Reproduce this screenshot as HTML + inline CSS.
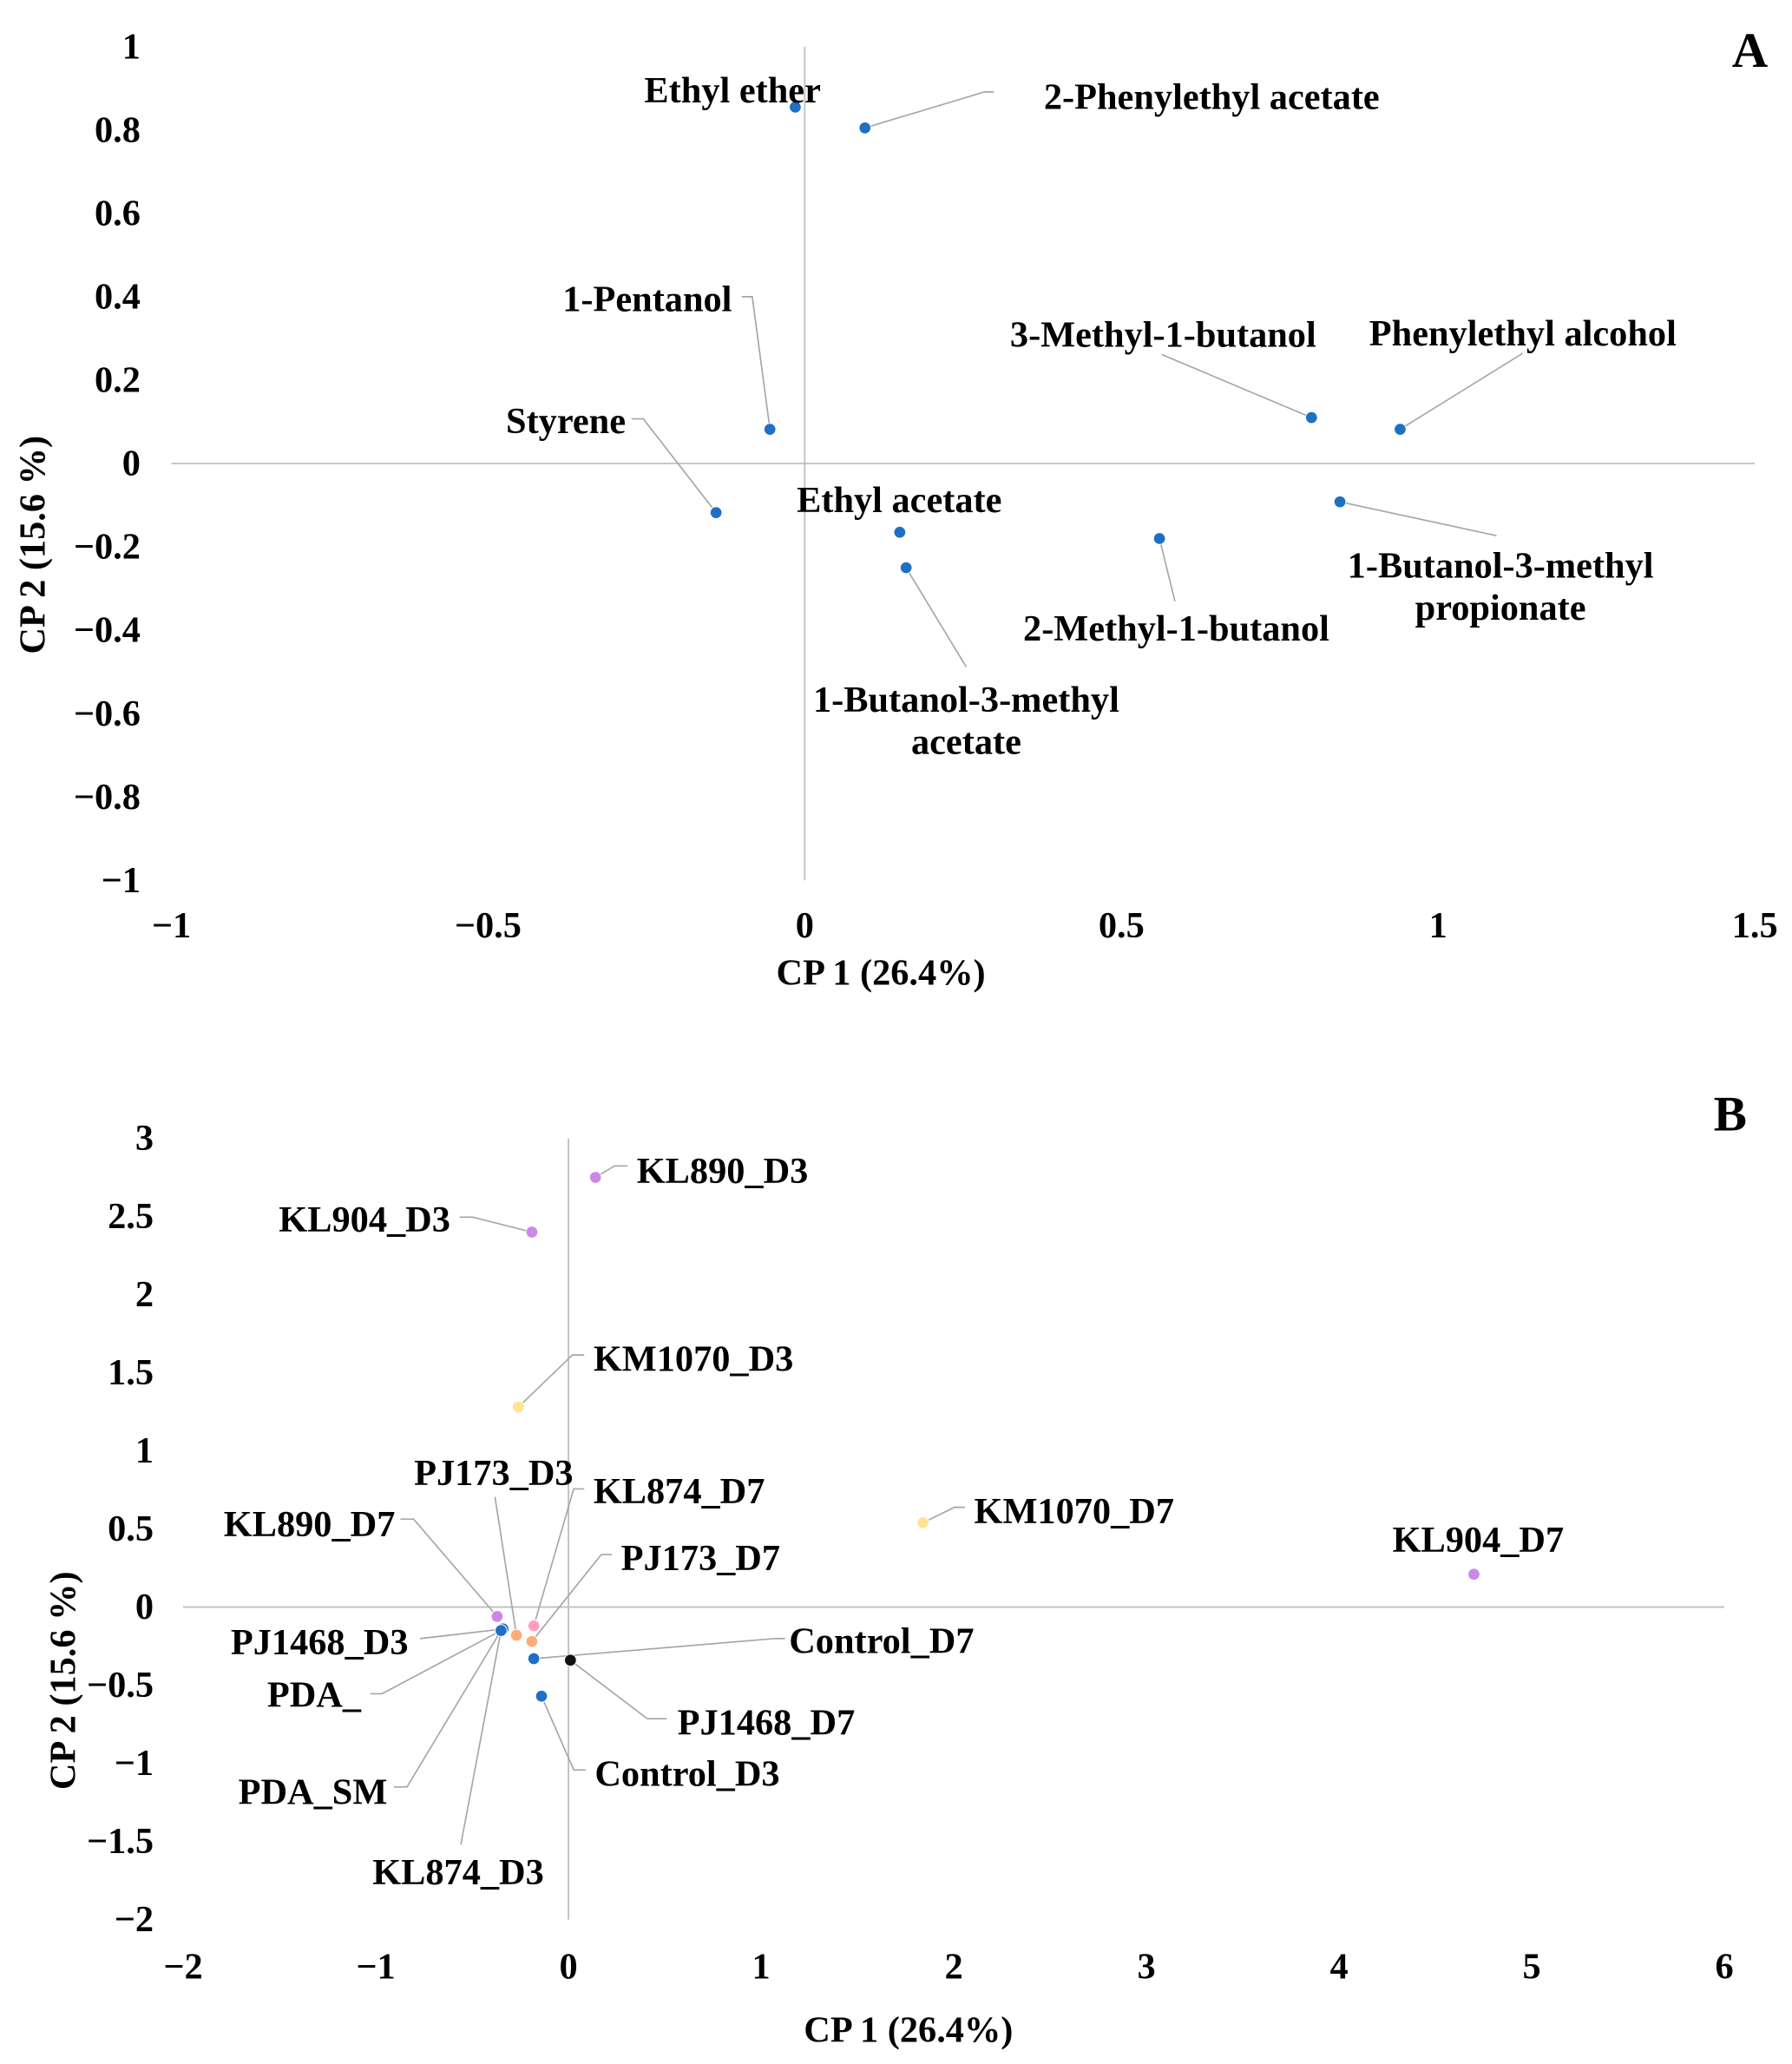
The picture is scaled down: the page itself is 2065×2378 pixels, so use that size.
<!DOCTYPE html>
<html><head><meta charset="utf-8"><style>
html,body{margin:0;padding:0;background:#fff}
svg{display:block}
text{font-family:"Liberation Serif","DejaVu Serif",serif;font-weight:bold;fill:#000}
</style></head><body>
<svg id="fig" width="2065" height="2378" viewBox="0 0 1365 1572" xmlns="http://www.w3.org/2000/svg"></svg>
<script>
// ---- Chart A data ----
const aNames = ["Ethyl ether","2-Phenylethyl acetate","1-Pentanol","Styrene","3-Methyl-1-butanol","Phenylethyl alcohol","1-Butanol-3-methyl propionate","2-Methyl-1-butanol","Ethyl acetate","1-Butanol-3-methyl acetate"];
const aX = [-0.015,0.095,-0.055,-0.14,0.80,0.94,0.845,0.56,0.15,0.16];
const aY = [0.855,0.805,0.082,-0.118,0.11,0.082,-0.092,-0.18,-0.165,-0.25];
const aXTicks = [-1,-0.5,0,0.5,1,1.5];
const aYTicks = [1,0.8,0.6,0.4,0.2,0,-0.2,-0.4,-0.6,-0.8,-1];
// ---- Chart B data ----
const bNames = ["KL890_D3","KL904_D3","KM1070_D3","KM1070_D7","KL904_D7","KL890_D7","KL874_D7","PJ173_D3","PJ173_D7","PJ1468_D3","PDA_","PDA_SM","KL874_D3","Control_D7","Control_D3","PJ1468_D7"];
const bX = [0.14,-0.19,-0.26,1.84,4.7,-0.37,-0.18,-0.27,-0.19,-0.34,-0.35,-0.35,-0.35,-0.18,-0.14,0.01];
const bY = [2.75,2.40,1.28,0.54,0.21,-0.06,-0.12,-0.18,-0.22,-0.14,-0.15,-0.15,-0.15,-0.33,-0.57,-0.34];
const bColors = ["#cc88e8","#cc88e8","#ffe38f","#ffe38f","#cc88e8","#cc88e8","#ff9ec0","#ffab7a","#ffab7a","#1f6fc4","#1f6fc4","#1f6fc4","#1f6fc4","#1f6fc4","#1f6fc4","#111111"];
const bXTicks = [-2,-1,0,1,2,3,4,5,6];
const bYTicks = [3,2.5,2,1.5,1,0.5,0,-0.5,-1,-1.5,-2];

const NS="http://www.w3.org/2000/svg";
const svg=document.getElementById('fig');
function mk(tag,attrs,parent){const e=document.createElementNS(NS,tag);for(const k in attrs)e.setAttribute(k,attrs[k]);(parent||svg).appendChild(e);return e;}
function fmt(v){return v<0?'\u2212'+String(-v):String(v);}

const ax={x0:613,xu:482.5,y0:353,yu:317.5};
const aSx=v=>ax.x0+v*ax.xu, aSy=v=>ax.y0-v*ax.yu;
const bx={x0:433,xu:146.75,y0:1224,yu:119};
const bSx=v=>bx.x0+v*bx.xu, bSy=v=>bx.y0-v*bx.yu;

const FS=28;
const aLayout = {
 "Ethyl ether":[558,78,"middle",null],
 "2-Phenylethyl acetate":[923,83,"middle",[[750,70],[757,70]]],
 "1-Pentanol":[493,237,"middle",[[573,226],[565,226]]],
 "Styrene":[431,330,"middle",[[490,319],[481,319]]],
 "3-Methyl-1-butanol":[886,264,"middle",[[885,270]]],
 "Phenylethyl alcohol":[1160,263,"middle",[[1160,269]]],
 "1-Butanol-3-methyl propionate":[1143,440,"middle",[[1140,408]]],
 "2-Methyl-1-butanol":[896,488,"middle",[[895,458]]],
 "Ethyl acetate":[685,390,"middle",null],
 "1-Butanol-3-methyl acetate":[736,542,"middle",[[736,508]]]
};
const bLayout = {
 "KL890_D3":[485,901,"start",[[468,888],[478,888]]],
 "KL904_D3":[343,938,"end",[[360,927],[350,927]]],
 "KM1070_D3":[452,1044,"start",[[436,1032],[445,1032]]],
 "KM1070_D7":[742,1160,"start",[[727,1148],[735,1148]]],
 "KL904_D7":[1126,1182,"middle",null],
 "KL890_D7":[301,1170,"end",[[315,1157],[305,1157]]],
 "KL874_D7":[452,1145,"start",[[437,1134],[445,1134]]],
 "PJ173_D3":[376,1131,"middle",[[377,1140]]],
 "PJ173_D7":[473,1196,"start",[[458,1184],[466,1184]]],
 "PJ1468_D3":[311,1260,"end",[[320,1248]]],
 "PDA_":[275,1300,"end",[[291,1290],[282,1290]]],
 "PDA_SM":[295,1374,"end",[[310,1361],[300,1361]]],
 "KL874_D3":[349,1435,"middle",[[351,1405]]],
 "Control_D7":[601,1259,"start",[[590,1248],[598,1248]]],
 "Control_D3":[453,1360,"start",[[437,1348],[446,1348]]],
 "PJ1468_D7":[516,1321,"start",[[493,1309],[508,1309]]]
};

function drawChart(id,names,xs,ys,colors,xt,yt,sx,sy,xr,yr,layout,tickX,tickY,letter,letterPos,xTitlePos,yTitlePos){
  const g=mk('g',{});
  
  
  const xl=mk('line',{x1:sx(xr[0]),x2:sx(xr[1]),y1:sy(0),y2:sy(0),stroke:'#bfbfbf','stroke-width':1.2},g);
  
  
  const yl=mk('line',{x1:sx(0),x2:sx(0),y1:sy(yr[0]),y2:sy(yr[1]),stroke:'#bfbfbf','stroke-width':1.2},g);
  
  
  xt.forEach(v=>{const t=mk('text',{x:sx(v),y:tickY,'text-anchor':'middle','font-size':FS},g);t.textContent=fmt(v);
    
    });
  yt.forEach(v=>{const t=mk('text',{x:tickX,y:sy(v)+9,'text-anchor':'end','font-size':FS},g);t.textContent=fmt(v);
    
    });
  names.forEach((n,i)=>{
    const px=sx(xs[i]),py=sy(ys[i]);const L=layout[n];
    if(L&&L[3]){const pts=[[px,py]].concat(L[3]).map(p=>p.join(',')).join(' ');
      const pl=mk('polyline',{points:pts,fill:'none',stroke:'#a6a6a6','stroke-width':1.1},g);
      
      }
  });
  names.forEach((n,i)=>{
    const c=mk('circle',{cx:sx(xs[i]),cy:sy(ys[i]),r:4.5,fill:colors[i],stroke:'#fff','stroke-width':0.6},g);
    
    
  });
  names.forEach((n,i)=>{
    const L=layout[n];const words=n.split(' ');
    const t=mk('text',{x:L[0],y:L[1],'text-anchor':L[2],'font-size':FS},g);
    
    
    if(n==="1-Butanol-3-methyl propionate"||n==="1-Butanol-3-methyl acetate"){
      const s1=mk('tspan',{x:L[0]},t);s1.textContent="1-Butanol-3-methyl";
      const s2=mk('tspan',{x:L[0],dy:32},t);s2.textContent=words[words.length-1];
    } else t.textContent=n;
  });
  const xt2=mk('text',{x:xTitlePos[0],y:xTitlePos[1],'text-anchor':'middle','font-size':FS},g);xt2.textContent='CP 1 (26.4%)';
  
  
  const yt2=mk('text',{x:0,y:0,'text-anchor':'middle','font-size':FS,transform:`translate(${yTitlePos[0]},${yTitlePos[1]}) rotate(-90)`},g);yt2.textContent='CP 2 (15.6 %)';
  
  
  const lt=mk('text',{x:letterPos[0],y:letterPos[1],'text-anchor':'middle','font-size':38},g);lt.textContent=letter;
  
  
}
drawChart('chart-a',aNames,aX,aY,aNames.map(()=> '#1f6fc4'),aXTicks,aYTicks,aSx,aSy,[-1,1.5],[1,-1],aLayout,107,714,'A',[1333,51],[671,750],[34,415]);
drawChart('chart-b',bNames,bX,bY,bColors,bXTicks,bYTicks,bSx,bSy,[-2,6],[3,-2],bLayout,117,1507,'B',[1318,861],[692,1555],[57,1280]);
</script>
</body></html>
